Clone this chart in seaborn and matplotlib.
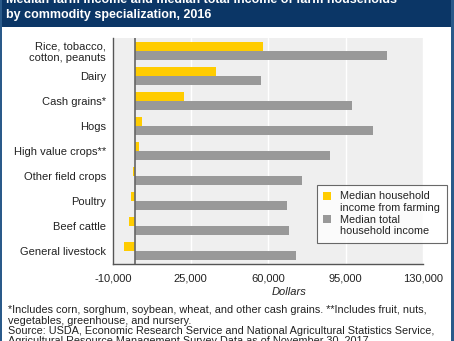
import matplotlib
matplotlib.use("Agg")
import matplotlib.pyplot as plt
import matplotlib.patches as mpatches
from matplotlib.ticker import FuncFormatter
import seaborn as sns
import pandas as pd

categories = ["Rice, tobacco,\ncotton, peanuts", "Dairy", "Cash grains*", "Hogs",
              "High value crops**", "Other field crops", "Poultry", "Beef cattle",
              "General livestock"]
farm_income = [57900, 36500, 22200, 3100, 1600, -950, -1850, -2750, -4900]
total_income = [113600, 56700, 98100, 107400, 87900, 75500, 68600, 69350, 72800]
series_names = ["Median household\nincome from farming", "Median total\nhousehold income"]
x_ticks = [-10000, 25000, 60000, 95000, 130000]

df = pd.DataFrame({
    "category": categories * 2,
    "value": farm_income + total_income,
    "series": [series_names[0]] * len(categories) + [series_names[1]] * len(categories),
})

sns.set_style("white")
plt.rcParams["font.family"] = ["Liberation Sans", "DejaVu Sans"]

W, H = 454, 341
fig = plt.figure(figsize=(W / 100, H / 100), dpi=100)
fig.patch.set_facecolor("white")

# header band
fig.add_artist(mpatches.Rectangle((0, 1 - 27 / H), 1, 27 / H, transform=fig.transFigure,
                                  facecolor="#0b3666", edgecolor="none", zorder=0))
# side borders
fig.add_artist(mpatches.Rectangle((0, 0), 2 / W, 1, transform=fig.transFigure,
                                  facecolor="#2a5a8a", edgecolor="none", zorder=0))
fig.add_artist(mpatches.Rectangle((1 - 3 / W, 0), 3 / W, 1, transform=fig.transFigure,
                                  facecolor="#2a5a8a", edgecolor="none", zorder=0))

fig.text(6 / W, 1 - 0 / H, "Median farm income and median total income of farm households",
         color="white", fontsize=9, fontweight="bold", ha="left", va="center")
fig.text(6 / W, 1 - 15 / H, "by commodity specialization, 2016",
         color="white", fontsize=9, fontweight="bold", ha="left", va="center")

ax = fig.add_axes([113 / W, (H - 264) / H, 310 / W, 226 / H])
ax.set_facecolor("#efefef")

sns.barplot(data=df, y="category", x="value", hue="series", orient="h",
            palette=["#FFCC00", "#999999"], width=0.72, dodge=True, ax=ax,
            saturation=1, gap=0, zorder=3, edgecolor="none", linewidth=0)

ax.set_xlim(-10000, 130000)
ax.set_ylim(8.5, -0.5)
ax.set_xticks(x_ticks)
ax.xaxis.set_major_formatter(FuncFormatter(lambda v, p: f"{int(v):,}"))
ax.grid(axis="x", color="white", linewidth=1, zorder=0)
ax.set_axisbelow(True)
ax.axvline(0, color="#666666", linewidth=1.2, zorder=4)

for s in ["top", "right"]:
    ax.spines[s].set_visible(False)
for s in ["left", "bottom"]:
    ax.spines[s].set_color("#555555")
    ax.spines[s].set_linewidth(1)

ax.tick_params(axis="x", length=4, width=0.8, color="#555555", labelsize=8, pad=3,
               labelcolor="#222222")
ax.tick_params(axis="y", length=0, labelsize=8, pad=5, labelcolor="#222222")
ax.set_ylabel("")
ax.set_xlabel("")

fig.text(289 / W, 1 - 292 / H, "Dollars", fontsize=8, fontstyle="italic",
         ha="center", va="center", color="#222222")

# legend: one handle per series, continuation lines with blank handles
handles, labels = ax.get_legend_handles_labels()
blank = mpatches.Patch(facecolor="none", edgecolor="none")
leg_handles, leg_labels = [], []
for h, lab in zip(handles, labels):
    parts = lab.split("\n")
    leg_handles.append(h)
    leg_labels.append(parts[0])
    for extra in parts[1:]:
        leg_handles.append(blank)
        leg_labels.append(extra)
ax.get_legend().remove()
leg = ax.legend(leg_handles, leg_labels, loc="upper left",
                bbox_to_anchor=(0.657, 0.0, 0.42, 0.35), mode="expand",
                fontsize=7.8, frameon=True, fancybox=False, edgecolor="#444444",
                handlelength=0.75, handleheight=0.75, handletextpad=0.8,
                borderpad=0.6, labelspacing=0.15, borderaxespad=0)
leg.get_frame().set_linewidth(0.8)
leg.set_zorder(6)
for t in leg.get_texts():
    t.set_color("#222222")

foot = ["*Includes corn, sorghum, soybean, wheat, and other cash grains. **Includes fruit, nuts,",
        "vegetables, greenhouse, and nursery.",
        "Source: USDA, Economic Research Service and National Agricultural Statistics Service,",
        "Agricultural Resource Management Survey Data as of November 30, 2017."]
for i, line in enumerate(foot):
    fig.text(8 / W, 1 - (313.3 + 10.2 * i) / H, line, fontsize=7.8, ha="left",
             va="baseline", color="#222222")

fig.savefig("out.png", dpi=100)
